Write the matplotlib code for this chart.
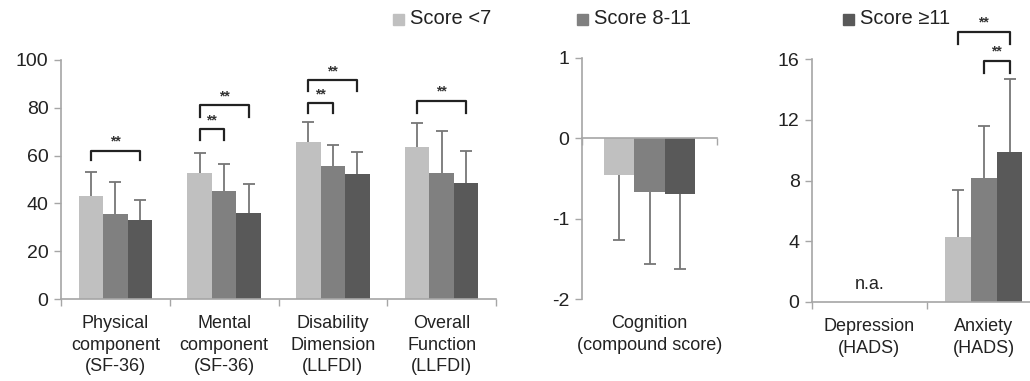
import numpy as np
import matplotlib
matplotlib.use("Agg")
from matplotlib import pyplot as plt

plt.rcParams['font.family'] = ['Liberation Sans', 'DejaVu Sans']
plt.rcParams['axes.unicode_minus'] = False

groups = ['Score <7', 'Score 8-11', 'Score \u226511']
colors = ['#c0c0c0', '#808080', '#595959']

# panel 1: quality of life / function
qol_labels = ['Physical\ncomponent\n(SF-36)', 'Mental\ncomponent\n(SF-36)',
              'Disability\nDimension\n(LLFDI)', 'Overall\nFunction\n(LLFDI)']
qol_mean = [[43, 52.7, 65.7, 63.6], [35.5, 45.2, 55.7, 52.7], [33, 36, 52.3, 48.5]]
qol_sd = [[10, 8.3, 8.3, 10], [13.5, 11.3, 8.7, 17.6], [8.4, 12, 9.2, 13.5]]

# panel 2: cognition
cog_labels = ['Cognition\n(compound score)']
cog_mean = [[-0.46], [-0.67], [-0.69]]
cog_sd = [[0.80], [0.89], [0.94]]

# panel 3: HADS (depression not available)
hads_labels = ['Depression\n(HADS)', 'Anxiety\n(HADS)']
hads_mean = [[np.nan, 4.28], [np.nan, 8.16], [np.nan, 9.87]]
hads_sd = [[np.nan, 3.1], [np.nan, 3.45], [np.nan, 4.8]]

# significance brackets: (category, bar i, bar j, height, leg length)
qol_sig = [(0, 0, 2, 62, 4), (1, 0, 1, 71, 4.5), (1, 0, 2, 81, 5),
           (2, 0, 1, 82, 4), (2, 0, 2, 91.6, 4.6), (3, 0, 2, 83, 5)]
hads_sig = [(1, 0, 2, 17.8, 0.8), (1, 1, 2, 15.9, 0.8)]

W = 1030
H = 381
fig = plt.figure(figsize=(W / 100, H / 100), dpi=100)

axc = '#a6a6a6'
txt = '#222222'
bw = 0.225


def px(x0, y0, x1, y1):
    return [x0 / W, 1 - y1 / H, (x1 - x0) / W, (y1 - y0) / H]


def bars(ax, labels, mean, sd):
    n = len(labels)
    x = np.arange(n)
    for k in range(3):
        m = np.array(mean[k], dtype=float)
        s = np.array(sd[k], dtype=float)
        xs = x + (k - 1) * bw
        ax.bar(xs, m, bw, color=colors[k], zorder=2)
        end = np.where(m < 0, m - s, m + s)
        ax.vlines(xs, m, end, color='#767676', lw=1.3, zorder=3)
        ax.plot(xs, end, ls='none', marker='_', ms=8, mew=1.3,
                color='#767676', zorder=3)
    ax.set_xlim(-0.5, n - 0.5)
    ax.set_xticks([])
    ax.set_xticks(np.arange(n + 1) - 0.5, minor=True)
    ax.tick_params(axis='x', which='minor', length=5, color=axc, width=1)
    ax.tick_params(axis='y', length=5, color=axc, width=1, labelsize=14,
                   labelcolor=txt, pad=4)
    for s in ['top', 'right']:
        ax.spines[s].set_visible(False)
    for s in ['left', 'bottom']:
        ax.spines[s].set_color(axc)
        ax.spines[s].set_linewidth(1.2)
    for xi, lab in zip(x, labels):
        ax.annotate(lab, xy=(xi, 0), xycoords=('data', 'axes fraction'),
                    xytext=(0, -16), textcoords='offset pixels', ha='center',
                    va='top', fontsize=13, color=txt, linespacing=1.35)
    return x


def brackets(ax, sig, dy):
    for c, i, j, y, leg in sig:
        x0 = c + (i - 1) * bw
        x1 = c + (j - 1) * bw
        ax.plot([x0, x0, x1, x1], [y - leg, y, y, y - leg], color=txt,
                lw=1.6, clip_on=False, zorder=4)
        ax.text((x0 + x1) / 2, y + dy, '**', ha='center', va='bottom',
                fontsize=10, fontweight='bold', color='#333333')


ax1 = fig.add_axes(px(61, 60, 496, 299))
bars(ax1, qol_labels, qol_mean, qol_sd)
ax1.set_ylim(0, 100)
ax1.set_yticks([0, 20, 40, 60, 80, 100])
brackets(ax1, qol_sig, 0.8)

ax2 = fig.add_axes(px(582, 58, 717, 299))
bars(ax2, cog_labels, cog_mean, cog_sd)
ax2.set_ylim(-2, 1)
ax2.set_yticks([-2, -1, 0, 1])
ax2.spines['bottom'].set_position(('data', 0))

ax3 = fig.add_axes(px(812, 59, 1041, 302))
bars(ax3, hads_labels, hads_mean, hads_sd)
ax3.set_ylim(0, 16)
ax3.set_yticks([0, 4, 8, 12, 16])
brackets(ax3, hads_sig, 0.15)
ax3.text(0, 0.6, 'n.a.', ha='center', va='bottom', fontsize=13, color=txt)

# legend along the top
leg_x = [393, 577, 843]
for k in range(3):
    fig.patches.append(plt.Rectangle((leg_x[k] / W, 1 - 25 / H), 11 / W, 11 / H,
                                     transform=fig.transFigure, color=colors[k]))
    fig.text((leg_x[k] + 17) / W, 1 - 19 / H, groups[k], fontsize=14.5,
             va='center', ha='left', color=txt)

fig.savefig('out.png', dpi=100)
